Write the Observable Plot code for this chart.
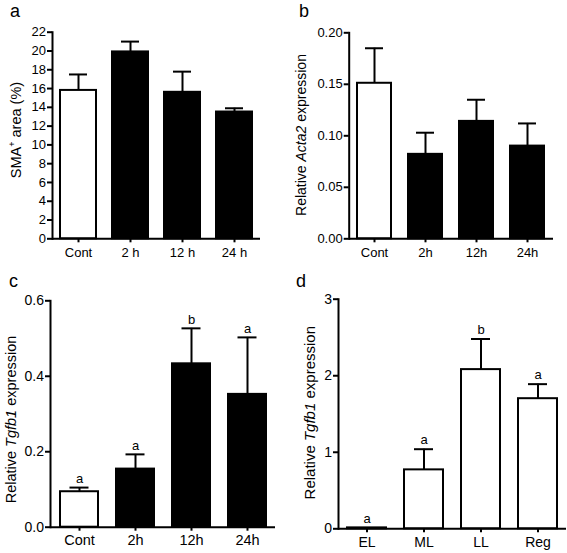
<!DOCTYPE html>
<html>
<head>
<meta charset="utf-8">
<script src="https://cdn.jsdelivr.net/npm/d3@7"></script>
<script src="https://cdn.jsdelivr.net/npm/@observablehq/plot@0.6"></script>
<style>
  html, body { margin: 0; padding: 0; background: white; }
  #wrap { position: relative; width: 567px; height: 553px; background: white; overflow: hidden; }
  .panel { position: absolute; }
  #overlay { position: absolute; left: 0; top: 0; pointer-events: none; }
</style>
</head>
<body>
<div id="wrap">
  <div class="panel" id="pa" style="left:0px;top:0px"></div>
  <div class="panel" id="pb" style="left:283px;top:0px"></div>
  <div class="panel" id="pc" style="left:0px;top:276px"></div>
  <div class="panel" id="pd" style="left:283px;top:276px"></div>
</div>
<script>
// ---- Data ----
// Panel a: SMA+ area (%)
const catsA = ["Cont", "2 h", "12 h", "24 h"];
const meanA = [15.8, 19.9, 15.6, 13.5];
const errA  = [17.5, 21.0, 17.8, 13.9];
const fillA = ["white", "black", "black", "black"];
const ticksA = [0, 2, 4, 6, 8, 10, 12, 14, 16, 18, 20, 22];

// Panel b: Relative Acta2 expression
const catsB = ["Cont", "2h", "12h", "24h"];
const meanB = [0.151, 0.082, 0.114, 0.090];
const errB  = [0.185, 0.103, 0.135, 0.112];
const fillB = ["white", "black", "black", "black"];
const ticksB = [0, 0.05, 0.10, 0.15, 0.20];

// Panel c: Relative Tgfb1 expression (time course)
const catsC = ["Cont", "2h", "12h", "24h"];
const meanC = [0.094, 0.154, 0.433, 0.352];
const errC  = [0.105, 0.193, 0.527, 0.503];
const fillC = ["white", "black", "black", "black"];
const sigC  = ["a", "a", "b", "a"];
const ticksC = [0, 0.2, 0.4, 0.6];

// Panel d: Relative Tgfb1 expression (stages)
const catsD = ["EL", "ML", "LL", "Reg"];
const meanD = [0.012, 0.77, 2.08, 1.70];
const errD  = [0.012, 1.04, 2.48, 1.89];
const fillD = ["white", "white", "white", "white"];
const sigD  = ["a", "a", "b", "a"];
const ticksD = [0, 1, 2, 3];

const FONT = "'Liberation Sans', Arial, Helvetica, sans-serif";

function panel(o) {
  const rows = o.cats.map((c, i) => ({cat: c, mean: o.mean[i], err: o.err[i], fill: o.fill[i], sig: o.sig ? o.sig[i] : null}));
  const marks = [
    Plot.ruleX(rows.filter(d => d.err > d.mean), {x: "cat", y1: "mean", y2: "err", stroke: "black", strokeWidth: 2}),
    Plot.tickY(rows.filter(d => d.err > d.mean), {x: "cat", y: "err", stroke: "black", strokeWidth: 2, insetLeft: o.capInset, insetRight: o.capInset}),
    Plot.barY(rows, {x: "cat", y: "mean", fill: "fill", stroke: "black", strokeWidth: 2}),
    Plot.axisY({ticks: o.ticks, tickFormat: o.fmt, tickSize: 5, tickPadding: 1.5, strokeWidth: 2, fontSize: o.yFont, label: null}),
    Plot.axisX({tickSize: 4, tickPadding: o.xPad, strokeWidth: 2, fontSize: o.xFont, label: null}),
    Plot.ruleY([0], {stroke: "black", strokeWidth: 2}),
    Plot.frame({anchor: "left", stroke: "black", strokeWidth: 2})
  ];
  if (o.sig) {
    marks.push(Plot.text(rows, {x: "cat", y: "err", text: "sig", dy: -9, fontSize: 13, fill: "black"}));
  }
  const chart = Plot.plot({
    width: o.width, height: o.height,
    marginLeft: o.ml, marginRight: o.mr, marginTop: o.mt, marginBottom: o.mb,
    style: {fontFamily: FONT, fontSize: o.xFont + "px", color: "black", background: "white", overflow: "visible"},
    x: {domain: o.cats, paddingInner: o.pi, paddingOuter: o.po, label: null},
    y: {domain: o.domain, label: null},
    color: {type: "identity"},
    marks
  });
  d3.select(chart).selectAll("[aria-label='y-axis tick label'] text, g[aria-label='y-axis tick label']")
    .attr("font-size", o.yFont);
  d3.select(chart).selectAll("g[aria-label='x-axis tick label']")
    .attr("font-size", o.xFont);
  document.getElementById(o.id).appendChild(chart);
}

panel({id: "pa", cats: catsA, mean: meanA, err: errA, fill: fillA, ticks: ticksA, fmt: d3.format("d"),
  domain: [0, 22], width: 283, height: 276, ml: 52, mr: 23, mt: 31.7, mb: 37.7, pi: 0.31, po: 0.135,
  capInset: 9, xFont: 13, yFont: 13, xPad: 5});
panel({id: "pb", cats: catsB, mean: meanB, err: errB, fill: fillB, ticks: ticksB, fmt: d3.format(".2f"),
  domain: [0, 0.2], width: 284, height: 276, ml: 65.7, mr: 14, mt: 32.3, mb: 37.7, pi: 0.33, po: 0.135,
  capInset: 8, xFont: 13, yFont: 13, xPad: 5});
panel({id: "pc", cats: catsC, mean: meanC, err: errC, fill: fillC, sig: sigC, ticks: ticksC, fmt: d3.format(".1f"),
  domain: [0, 0.6], width: 283, height: 277, ml: 50, mr: 8, mt: 24.3, mb: 26.3, pi: 0.33, po: 0.145,
  capInset: 9.5, xFont: 14.5, yFont: 14, xPad: 4});
panel({id: "pd", cats: catsD, mean: meanD, err: errD, fill: fillD, sig: sigD, ticks: ticksD, fmt: d3.format("d"),
  domain: [0, 3], width: 284, height: 277, ml: 55, mr: 1, mt: 22.7, mb: 24.7, pi: 0.318, po: 0.156,
  capInset: 10, xFont: 14, yFont: 14, xPad: 4});

// ---- Overlay: panel letters and rotated y-axis titles ----
const svg = d3.select("#wrap").append("svg").attr("id", "overlay")
  .attr("width", 567).attr("height", 553)
  .style("font-family", FONT);

const letters = [
  {t: "a", x: 10, y: 17}, {t: "b", x: 299, y: 17},
  {t: "c", x: 9, y: 287}, {t: "d", x: 296, y: 287}
];
svg.selectAll("text.letter").data(letters).join("text")
  .attr("class", "letter").attr("x", d => d.x).attr("y", d => d.y)
  .attr("font-size", 18).attr("fill", "black").text(d => d.t);

function yTitle(x, y, size, parts) {
  const t = svg.append("text")
    .attr("transform", `translate(${x},${y}) rotate(-90)`)
    .attr("text-anchor", "middle").attr("font-size", size).attr("fill", "black");
  parts.forEach(p => {
    const s = t.append("tspan").text(p.text);
    if (p.italic) s.attr("font-style", "italic");
    if (p.sup) s.attr("font-size", size * 0.62).attr("dy", -size * 0.4);
    if (p.unsup) s.attr("dy", size * 0.4);
  });
}
yTitle(20.5, 130, 14.5, [{text: "SMA"}, {text: "+", sup: true}, {text: " area (%)", unsup: true}]);
yTitle(306, 135, 14, [{text: "Relative "}, {text: "Acta2", italic: true}, {text: " expression"}]);
yTitle(16, 419.5, 14.5, [{text: "Relative "}, {text: "Tgfb1", italic: true}, {text: " expression"}]);
yTitle(314.5, 412.7, 15, [{text: "Relative "}, {text: "Tgfb1", italic: true}, {text: " expression"}]);
</script>
</body>
</html>
